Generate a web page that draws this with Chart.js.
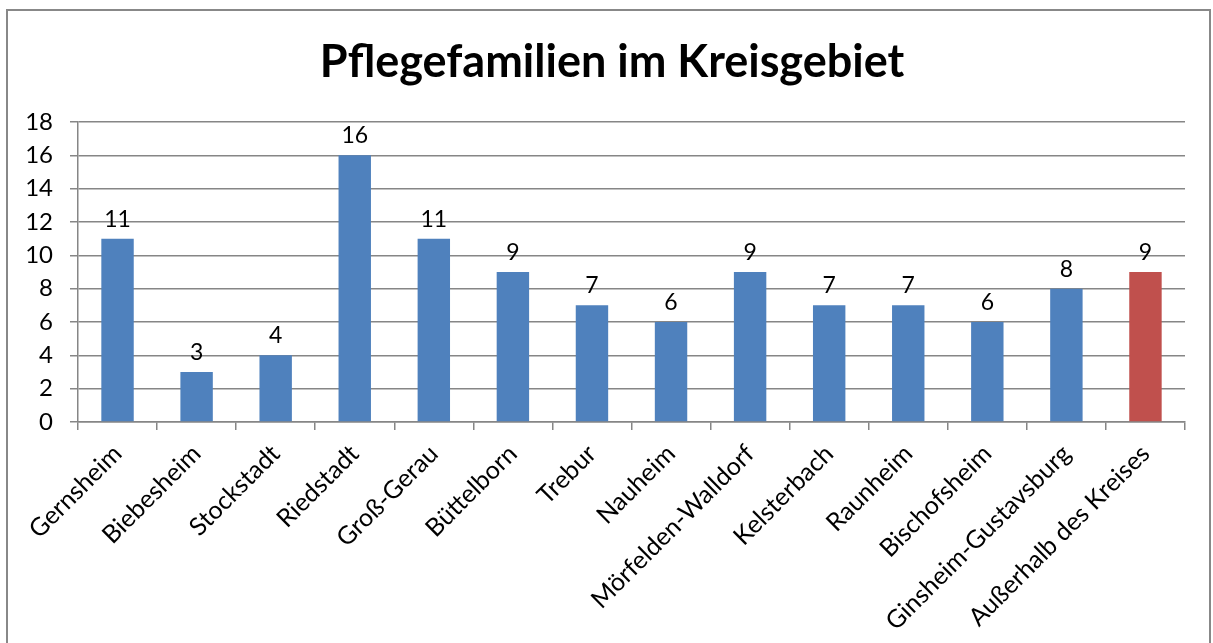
<!DOCTYPE html>
<html>
<head>
<meta charset="utf-8">
<script src="https://cdn.jsdelivr.net/npm/chart.js@4.4.1/dist/chart.umd.min.js"></script>
<style>
  body { margin: 0; background: #fff; overflow: hidden; }
  #frame {
    position: absolute; left: 6px; top: 9px; width: 1205px; height: 700px;
    border: 2px solid #888; box-sizing: border-box; background: #fff; overflow: hidden;
  }
  #wrap { position: absolute; left: 2px; top: 2px; width: 1204px; height: 632px; }
</style>
</head>
<body>
<div id="frame"><div id="wrap"><canvas id="chart"></canvas></div></div>
<script>
const categories = ["Gernsheim", "Biebesheim", "Stockstadt", "Riedstadt", "Groß-Gerau",
  "Büttelborn", "Trebur", "Nauheim", "Mörfelden-Walldorf", "Kelsterbach",
  "Raunheim", "Bischofsheim", "Ginsheim-Gustavsburg", "Außerhalb des Kreises"];
const values = [11, 3, 4, 16, 11, 9, 7, 6, 9, 7, 7, 6, 8, 9];
const barColors = values.map((v, i) => i === values.length - 1 ? "#C0504D" : "#4F81BD");
const FONT = "Lato, 'Open Sans', sans-serif";

// value labels above the bars
const valueLabels = {
  id: "valueLabels",
  afterDatasetsDraw(chart) {
    const ctx = chart.ctx;
    const meta = chart.getDatasetMeta(0);
    ctx.save();
    ctx.font = "23px " + FONT;
    ctx.fillStyle = "#000";
    ctx.textAlign = "center";
    ctx.textBaseline = "bottom";
    meta.data.forEach((bar, i) => {
      ctx.fillText(values[i], bar.x, bar.y - 8);
    });
    ctx.restore();
  }
};

new Chart(document.getElementById("chart"), {
  type: "bar",
  data: {
    labels: categories,
    datasets: [{
      data: values,
      backgroundColor: barColors,
      categoryPercentage: 1.0,
      barPercentage: 0.41
    }]
  },
  options: {
    responsive: true,
    maintainAspectRatio: false,
    animation: false,
    layout: { padding: 0 },
    plugins: {
      legend: { display: false },
      tooltip: { enabled: false },
      title: {
        display: true,
        text: "Pflegefamilien im Kreisgebiet",
        color: "#000",
        font: { family: FONT, size: 45, weight: "bold" },
        padding: { top: 22, bottom: 33 }
      }
    },
    scales: {
      y: {
        min: 0, max: 18,
        ticks: { stepSize: 2, color: "#000", font: { family: FONT, size: 24 }, padding: 17 },
        grid: { color: "#868686", lineWidth: 1.5, tickLength: 8 },
        border: { color: "#868686", width: 1.5 },
        afterFit(scale) { scale.width = 68; }
      },
      // empty right-hand spacer so the plot ends short of the frame
      yRight: {
        position: "right",
        min: 0, max: 18,
        ticks: { display: false },
        grid: { display: false },
        border: { display: false },
        afterFit(scale) { scale.width = 29; }
      },
      x: {
        ticks: {
          color: "#000", font: { family: FONT, size: 25 },
          maxRotation: 45, minRotation: 45, autoSkip: false, padding: 9
        },
        grid: { display: true, drawOnChartArea: false, drawTicks: true, tickLength: 8,
                color: "#868686", lineWidth: 1.5 },
        border: { color: "#868686", width: 1.5 },
        afterFit(scale) { scale.height = 223; }
      }
    }
  },
  plugins: [valueLabels]
});
</script>
</body>
</html>
